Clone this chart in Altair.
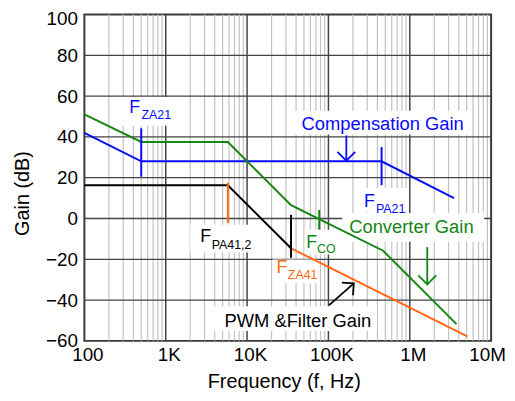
import altair as alt
import pandas as pd

FONT = "Liberation Sans"
BLUE = "#0a0aff"
GREEN = "#138613"
ORANGE = "#ff6a10"
BLACK = "#000000"

# ---- axes ----
x_ticks = [100, 1000, 10000, 100000, 1000000, 10000000]
x_tick_labels = ["100", "1K", "10K", "100K", "1M", "10M"]
y_ticks = [-60, -40, -20, 0, 20, 40, 60, 80, 100]
x_major_grid = [1000, 10000, 100000, 1000000]
y_major_grid = [-40, -20, 0, 20, 40, 60, 80]
minor_grid = [m * 10 ** e for e in range(2, 7) for m in range(2, 10)]

# ---- curves (frequency Hz, gain dB) ----
comp_f = [100, 500, 450000, 3500000]
comp_g = [42, 28, 28, 10]
conv_f = [100, 500, 5800, 34700, 470000, 3750000]
conv_g = [51, 37.5, 37.5, 6.5, -15.8, -51.8]
pwm_f = [100, 5800, 34700]
pwm_g = [16.3, 16.3, -14.6]
filt_f = [34700, 5100000]
filt_g = [-14.6, -57.8]

# ---- corner-frequency markers ----
mark_f = [500, 450000, 5800, 34700, 77000]
mark_lo = [20.5, 16.3, -2.2, -19.3, -5.5]
mark_hi = [44.2, 35.0, 17.6, 1.8, 4.2]
mark_c = [BLUE, BLUE, ORANGE, BLACK, GREEN]

# ---- arrows (start -> tip) ----
arr_f1 = [166000, 1640000, 102000]
arr_g1 = [40.7, -14.0, -42.5]
arr_f2 = [166000, 1640000, 205000]
arr_g2 = [28.3, -32.3, -31.8]
arr_c = [BLUE, GREEN, BLACK]
arr_angle = [0, 0, 228.7]
arr_size = [324, 324, 289]

# ---- white label backgrounds (data units) ----
box_f1 = [270, 38500, 260000, 148000, 51000, 2000, 20700, 3850]
box_f2 = [1360, 5200000, 970000, 8200000, 136000, 19000, 73000, 396000]
box_g1 = [45.5, 41.2, 3.2, -11.4, -17.7, -16.7, -31.8, -55.1]
box_g2 = [59.5, 52.8, 14.9, 2.7, -5.5, -3.1, -20.1, -43.0]

# ---- labels ----
big_text = ["Compensation Gain", "Converter Gain", "PWM &Filter Gain"]
big_f = [46800, 180000, 5272]
big_g = [43.6, -7.1, -53.3]
big_c = [BLUE, GREEN, BLACK]

sub_main = ["F", "F", "F", "F", "F"]
sub_text = ["ZA21", "PA21", "CO", "ZA41", "PA41,2"]
sub_f = [357, 274000, 53300, 23000, 2665]
sub_g = [51.7, 5.8, -14.4, -26.9, -11.7]
sub_c = [BLUE, BLUE, GREEN, ORANGE, BLACK]
sub_dx = [12.2, 12.0, 11.0, 11.4, 11.4]
sub_dy = [6.2, 6.3, 5.0, 6.0, 6.6]

XS = alt.Scale(type="log", domain=[100, 10000000])
YS = alt.Scale(domain=[-60, 100])

label_expr = " : ".join(
    f"datum.value == {v} ? '{t}'" for v, t in zip(x_ticks, x_tick_labels)
) + " : ''"

x_axis = alt.Axis(
    values=x_ticks, labelExpr=label_expr, title="Frequency (f, Hz)",
    grid=False, ticks=False, domain=False, labelFlush=False,
    labelFontSize=19, labelPadding=5, labelColor="#000000",
    labelOffset=alt.condition("datum.value == 10000000", alt.value(-4), alt.value(3)),
    titleFontSize=20, titleFontWeight="normal", titleColor="#000000",
    titleX=201, titleY=47, titleBaseline="alphabetic", titleAlign="center",
)
y_axis = alt.Axis(
    values=y_ticks, title="Gain (dB)", grid=False, ticks=False, domain=False,
    labelFontSize=19, labelPadding=7, labelColor="#000000",
    labelOffset=alt.condition("datum.value == 100", alt.value(4),
                              alt.value(0)),
    titleFontSize=20, titleFontWeight="normal", titleColor="#000000",
    titleX=-62.5, titleY=180, titleAngle=270, titleBaseline="middle",
    titleAlign="center",
)


def X(field="f", **kw):
    return alt.X(f"{field}:Q", scale=XS, axis=x_axis, title="Frequency (f, Hz)", **kw)


def Y(field="g", **kw):
    return alt.Y(f"{field}:Q", scale=YS, axis=y_axis, title="Gain (dB)", **kw)


layers = []

layers.append(
    alt.Chart(pd.DataFrame({"f": minor_grid}))
    .mark_rule(color="#c2c2c2", strokeWidth=1.2)
    .encode(x=X())
)
layers.append(
    alt.Chart(pd.DataFrame({"f": x_major_grid}))
    .mark_rule(color="#444444", strokeWidth=1.5)
    .encode(x=X())
)
layers.append(
    alt.Chart(pd.DataFrame({"g": y_major_grid}))
    .mark_rule(color="#444444", strokeWidth=1.3)
    .encode(y=Y())
)
layers.append(
    alt.Chart(pd.DataFrame({"f": box_f1, "f2": box_f2, "g": box_g1, "g2": box_g2}))
    .mark_rect(color="white")
    .encode(x=X(), x2="f2:Q", y=Y(), y2="g2:Q")
)

rows = []
for name, fs, gs, c in [
    ("comp", comp_f, comp_g, BLUE),
    ("conv", conv_f, conv_g, GREEN),
    ("pwm", pwm_f, pwm_g, BLACK),
    ("filt", filt_f, filt_g, ORANGE),
]:
    for i, (f, g) in enumerate(zip(fs, gs)):
        rows.append({"s": name, "f": f, "g": g, "c": c, "o": i})
curves = pd.DataFrame(rows)
layers.append(
    alt.Chart(curves)
    .mark_line(strokeWidth=2)
    .encode(x=X(), y=Y(), detail="s:N", order="o:Q",
            color=alt.Color("c:N", scale=None))
)

layers.append(
    alt.Chart(pd.DataFrame({"f": mark_f, "g": mark_lo, "g2": mark_hi, "c": mark_c}))
    .mark_rule(strokeWidth=2)
    .encode(x=X(), y=Y(), y2="g2:Q", color=alt.Color("c:N", scale=None))
)

arrows = pd.DataFrame({"f": arr_f1, "f2": arr_f2, "g": arr_g1, "g2": arr_g2,
                       "c": arr_c, "a": arr_angle, "sz": arr_size})
layers.append(
    alt.Chart(arrows)
    .mark_rule(strokeWidth=1.8)
    .encode(x=X(), x2="f2:Q", y=Y(), y2="g2:Q", color=alt.Color("c:N", scale=None))
)
layers.append(
    alt.Chart(arrows)
    .mark_point(shape="M-1,-1L0,0L1,-1", filled=False, strokeWidth=1.8, opacity=1)
    .encode(x=X("f2"), y=Y("g2"), color=alt.Color("c:N", scale=None),
            angle=alt.Angle("a:Q", scale=None), size=alt.Size("sz:Q", scale=None))
)

layers.append(
    alt.Chart(pd.DataFrame({"t": big_text, "f": big_f, "g": big_g, "c": big_c}))
    .mark_text(align="left", baseline="alphabetic", fontSize=18.5, font=FONT)
    .encode(x=X(), y=Y(), text="t:N", color=alt.Color("c:N", scale=None))
)
layers.append(
    alt.Chart(pd.DataFrame({"t": sub_main, "f": sub_f, "g": sub_g, "c": sub_c}))
    .mark_text(align="left", baseline="alphabetic", fontSize=18, font=FONT)
    .encode(x=X(), y=Y(), text="t:N", color=alt.Color("c:N", scale=None))
)
for i in range(len(sub_text)):
    layers.append(
        alt.Chart(pd.DataFrame({"t": [sub_text[i]], "f": [sub_f[i]], "g": [sub_g[i]],
                                "c": [sub_c[i]]}))
        .mark_text(align="left", baseline="alphabetic", fontSize=12.5, font=FONT,
                   dx=sub_dx[i], dy=sub_dy[i])
        .encode(x=X(), y=Y(), text="t:N", color=alt.Color("c:N", scale=None))
    )

chart = (
    alt.layer(*layers)
    .properties(
        width=410, height=329,
        autosize=alt.AutoSizeParams(type="none"),
        padding={"left": 77, "top": 5, "right": 16, "bottom": 51},
    )
    .configure(font=FONT)
    .configure_view(stroke="#3a3a3a", strokeWidth=2)
)

chart.save("out.html", embed_options={"renderer": "svg", "actions": False})
